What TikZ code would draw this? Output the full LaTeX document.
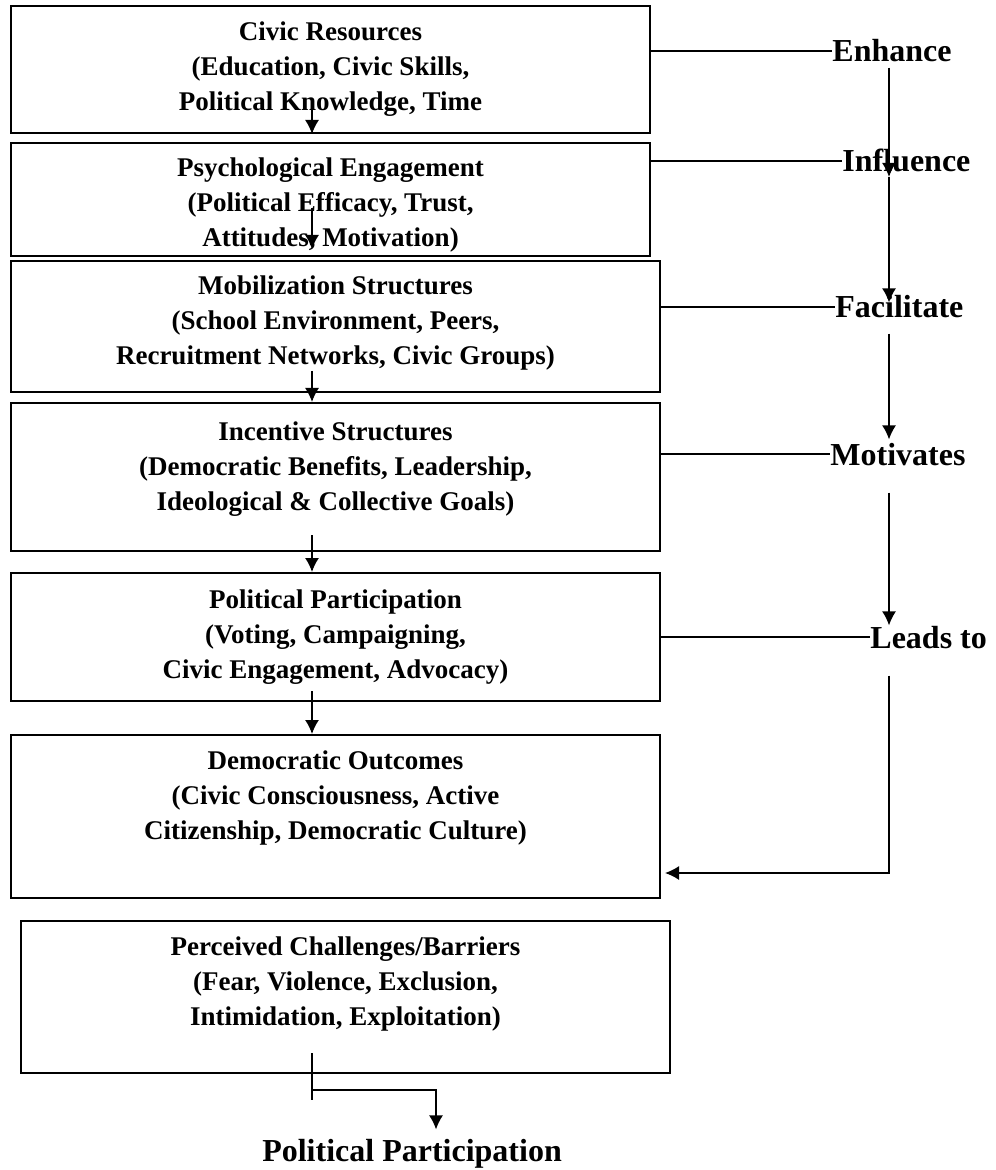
\documentclass[tikz,border=0pt]{standalone}
\usepackage{fontspec}
\setmainfont{Liberation Serif}
\usepackage{tikz}
\usetikzlibrary{shapes, arrows.meta, positioning}
\tikzstyle{block} = [rectangle, draw, line width=1pt, inner sep=0pt,
    minimum width=324.5pt]
\tikzstyle{boxtext} = [align=center, inner sep=0pt,
    font=\bfseries\fontsize{13.5}{17.5}\selectfont]
\tikzstyle{tag} = [inner sep=0pt, anchor=base west,
    font=\bfseries\fontsize{16}{19}\selectfont]
\tikzstyle{line} = [draw, line width=0.75pt, -{Latex[length=7pt,width=7pt]}]
\tikzstyle{rule} = [draw, line width=0.75pt]

\begin{document}
\begin{tikzpicture}[x=0.5pt, y=-0.5pt]
      \useasboundingbox (0,0) rectangle (995,1170);
      % Boxes
      \node [block, minimum width=319.5pt, minimum height=63.5pt] (cr) at (330.5,69.5) {};
      \node [block, minimum width=319.5pt, minimum height=56.5pt] (pe) at (330.5,199.5) {};
      \node [block, minimum height=65.5pt] (ms) at (335.5,326.5) {};
      \node [block, minimum height=74pt] (is) at (335.5,477) {};
      \node [block, minimum height=64pt] (pp) at (335.5,637) {};
      \node [block, minimum height=81.5pt] (do) at (335.5,816.5) {};
      \node [block, minimum height=76pt] (pc) at (345.5,997) {};
      % Box texts
      \node [boxtext] (cr-text) at (cr.center) {Civic Resources\\(Education, Civic Skills,\\Political Knowledge, Time};
      \node [boxtext, yshift=-2.75pt] (pe-text) at (pe.center) {Psychological Engagement\\(Political Efficacy, Trust,\\Attitudes, Motivation)};
      \node [boxtext, yshift=1.75pt] (ms-text) at (ms.center) {Mobilization Structures\\(School Environment, Peers,\\Recruitment Networks, Civic Groups)};
      \node [boxtext, yshift=4pt] (is-text) at (is.center) {Incentive Structures\\(Democratic Benefits, Leadership,\\Ideological \& Collective Goals)};
      \node [boxtext] (pp-text) at (pp.center) {Political Participation\\(Voting, Campaigning,\\Civic Engagement, Advocacy)};
      \node [boxtext, yshift=9.25pt] (do-text) at (do.center) {Democratic Outcomes\\(Civic Consciousness, Active\\Citizenship, Democratic Culture)};
      \node [boxtext, yshift=6.5pt] (pc-text) at (pc.center) {Perceived Challenges/Barriers\\(Fear, Violence, Exclusion,\\Intimidation, Exploitation)};
      % Side labels
      \node [tag] (enh) at (832,62) {Enhance};
      \node [tag] (inf) at (842,172) {Influence};
      \node [tag] (fac) at (835,318) {Facilitate};
      \node [tag] (mot) at (830,465) {Motivates};
      \node [tag] (lead) at (870,648) {Leads to};
      \node [inner sep=0pt, anchor=base, font=\bfseries\fontsize{16}{19}\selectfont] (out) at (412,1161) {Political Participation};
      \coordinate (col) at (312,0);
      \coordinate (rail) at (889,0);
      \coordinate (turn) at (889,873);
      \coordinate (split) at (312,1090);
      % Draw edges
      \path [line] ([yshift=12pt]cr.south -| col) -- (cr.south -| col);
      \path [line] ([yshift=24.5pt]pe.south -| col) -- ([yshift=4pt]pe.south -| col);
      \path [line] ([yshift=11pt]ms.south -| col) -- (is.north -| col);
      \path [line] ([yshift=8.5pt]is.south -| col) -- (pp.north -| col);
      \path [line] ([yshift=5.5pt]pp.south -| col) -- (do.north -| col);
      \path [rule] (cr.east |- enh.west) -- (enh.west);
      \path [rule] (pe.east |- inf.west) -- (inf.west);
      \path [rule] (ms.east |- fac.west) -- (fac.west);
      \path [rule] (is.east |- mot.west) -- (mot.west);
      \path [rule] (pp.east |- lead.west) -- (lead.west);
      \path [line] ([yshift=-2.5pt]enh.south -| rail) -- ([yshift=-2.5pt]inf.base -| rail);
      \path [line] ([yshift=-2.5pt]inf.base -| rail) -- ([yshift=-3.5pt]fac.north -| rail);
      \path [line] ([yshift=-7.5pt]fac.south -| rail) -- ([yshift=1.5pt]mot.north -| rail);
      \path [line] ([yshift=-13.5pt]mot.south -| rail) -- (lead.north -| rail);
      \path [line] ([yshift=-13.5pt]lead.south -| rail) -- (turn) -- ([xshift=2pt]do.east |- turn);
      \path [rule] ([yshift=10.5pt]pc.south -| split) -- ([yshift=-5pt]split);
      \path [line] (split) -| ([xshift=12pt, yshift=4.5pt]out.north);
  \end{tikzpicture}
\end{document}
